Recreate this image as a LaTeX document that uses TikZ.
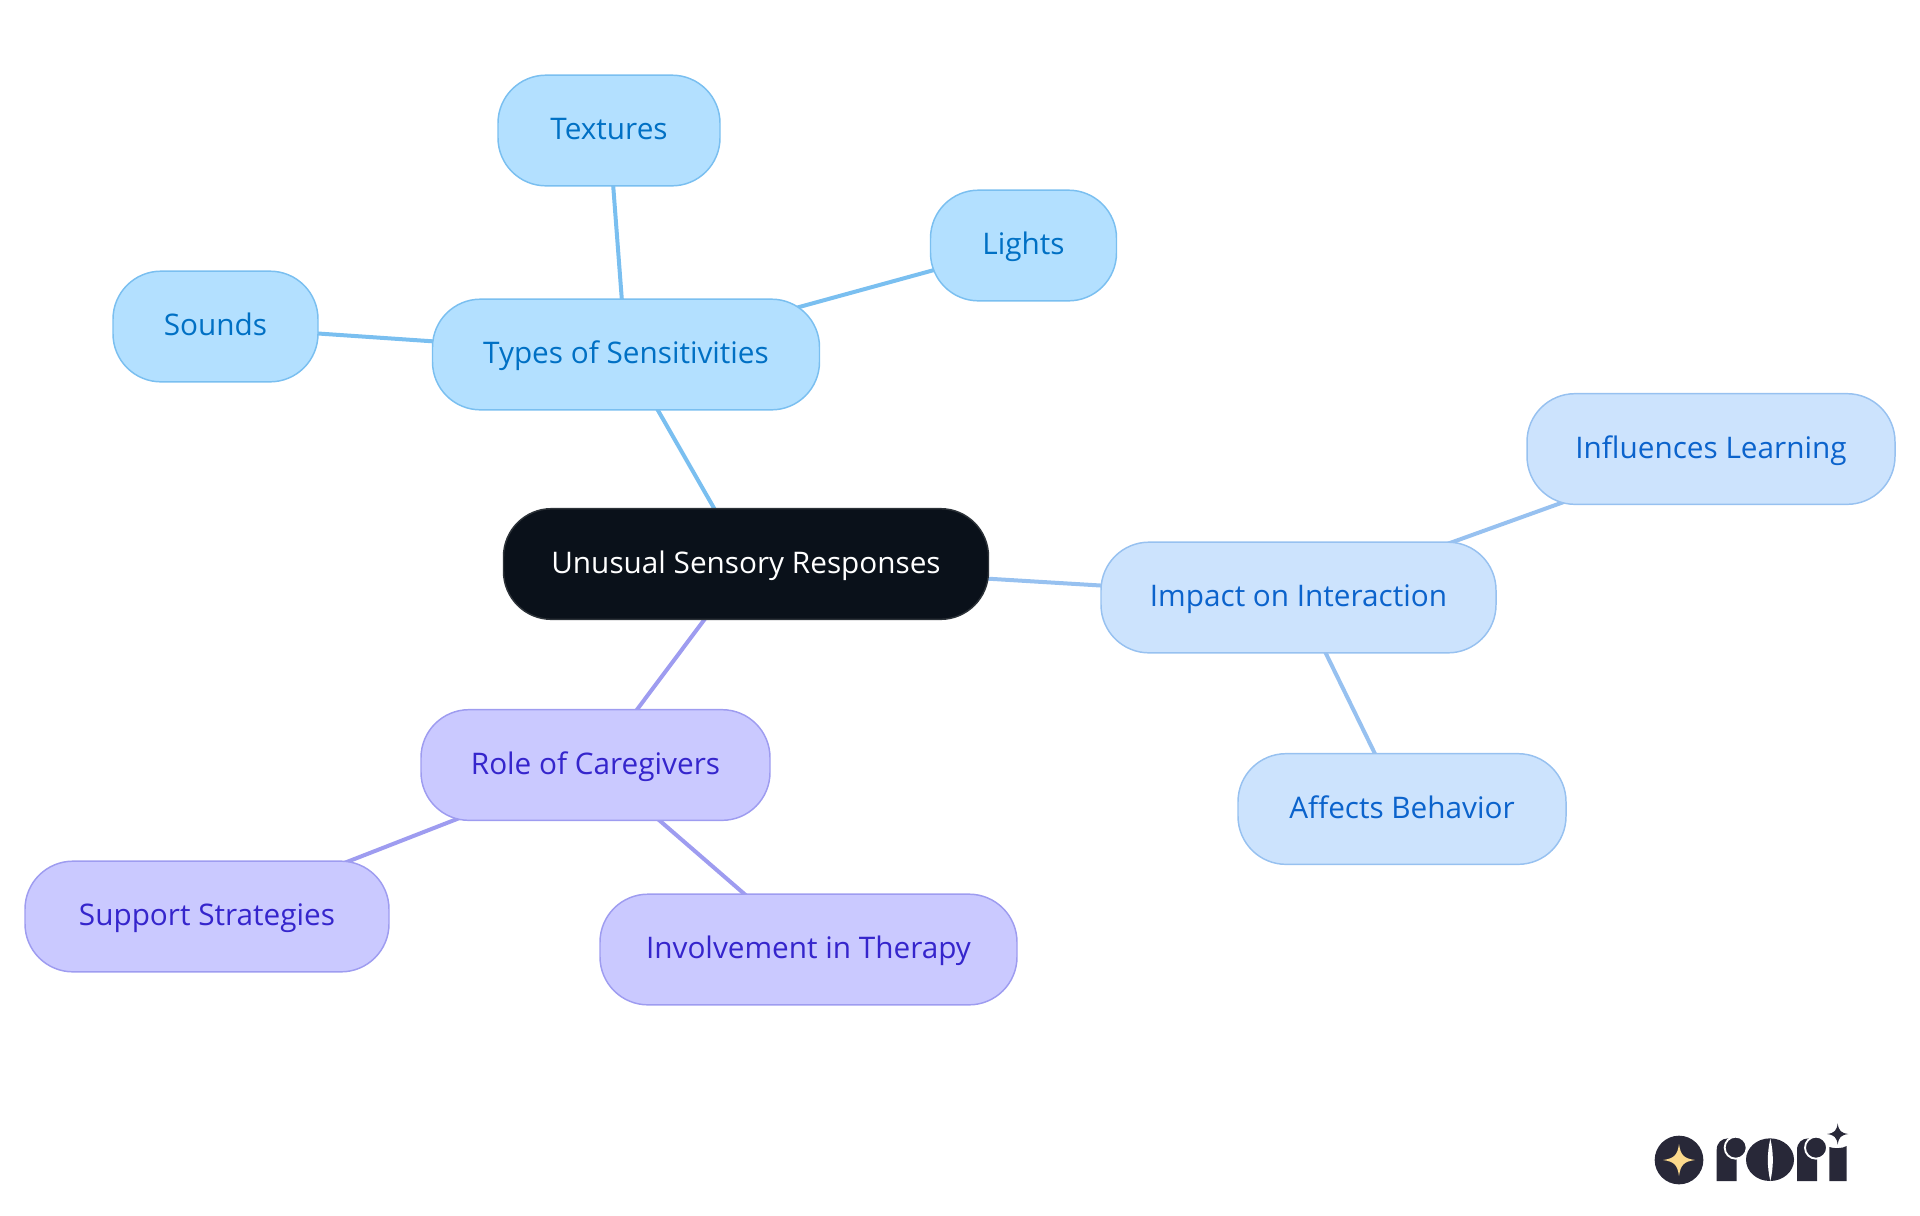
\documentclass[tikz,border=0pt]{standalone}
\usepackage{fontspec}
\setmainfont{Open Sans}
\usetikzlibrary{backgrounds}
\definecolor{rootfill}{HTML}{0A111A}
\definecolor{rootline}{HTML}{2C3238}
\definecolor{skyfill}{HTML}{B3E0FF}
\definecolor{skyline}{HTML}{7ABFF0}
\definecolor{skytext}{HTML}{0070C4}
\definecolor{bluefill}{HTML}{CCE3FD}
\definecolor{blueline}{HTML}{97C1F0}
\definecolor{bluetext}{HTML}{0B63CC}
\definecolor{violetfill}{HTML}{CAC9FF}
\definecolor{violetline}{HTML}{9E9CF0}
\definecolor{violettext}{HTML}{3525CC}
\definecolor{logodark}{HTML}{282838}
\definecolor{logogold}{HTML}{FBD98C}
\tikzset{
  idea/.style = {draw, rounded corners=36pt, line width=1.1pt, minimum height=83pt,
    inner sep=0pt, align=center, text height=18.6pt, text depth=5pt,
    font=\fontsize{22.3}{26}\selectfont},
  rootidea/.style = {idea, fill=rootfill, draw=rootline, text=white},
  skyidea/.style = {idea, fill=skyfill, draw=skyline, text=skytext},
  blueidea/.style = {idea, fill=bluefill, draw=blueline, text=bluetext},
  violetidea/.style = {idea, fill=violetfill, draw=violetline, text=violettext},
  skylink/.style = {line width=3pt, draw=skyline},
  bluelink/.style = {line width=3pt, draw=blueline},
  violetlink/.style = {line width=3pt, draw=violetline},
  logostar/.pic = {
    \fill (-1,0) .. controls (-.3,.1) and (-.1,.3) .. (0,1)
       .. controls (.1,.3) and (.3,.1) .. (1,0)
       .. controls (.3,-.1) and (.1,-.3) .. (0,-1)
       .. controls (-.1,-.3) and (-.3,-.1) .. (-1,0) -- cycle;
  },
  logoletter/.pic = {
    \fill (0,243) -- (0,150) .. controls (0,128) and (15,115) .. (35,115)
       -- (60,150) -- (60,243) -- cycle;
    \filldraw[draw=white, line width=1.4pt] (57,143) circle (33);
  }
}
\begin{document}
\begin{tikzpicture}[x=.75pt,y=-.75pt]
  \useasboundingbox (0,0) rectangle (1920,1215);
  \node[rootidea, minimum width=363.75pt] (root) at (746,564) {Unusual Sensory Responses};

  \node[skyidea, minimum width=290.25pt] (types) at (626,354.5) {Types of Sensitivities};
  \node[skyidea, minimum width=166.5pt] (textures) at (609,130.5) {Textures};
  \node[skyidea, minimum width=139.5pt] (lights) at (1023.5,245.5) {Lights};
  \node[skyidea, minimum width=153.75pt] (sounds) at (215.5,326.5) {Sounds};

  \node[blueidea, minimum width=296.25pt] (impact) at (1298.5,597.5) {Impact on Interaction};
  \node[blueidea, minimum width=276pt] (learning) at (1711,449) {Influences Learning};
  \node[blueidea, minimum width=246pt] (behavior) at (1402,809) {Affects Behavior};

  \node[violetidea, minimum width=261.75pt] (role) at (595.5,765) {Role of Caregivers};
  \node[violetidea, minimum width=273pt] (support) at (207,916.5) {Support Strategies};
  \node[violetidea, minimum width=312.75pt] (therapy) at (808.5,949.5) {Involvement in Therapy};

  \begin{pgfonlayer}{background}
    \draw[skylink] (root.center) -- (types.center);
    \foreach \leaf in {textures,lights,sounds} {
      \draw[skylink] (types.center) -- (\leaf.center);
    };
    \draw[bluelink] (root.center) -- (impact.center);
    \foreach \leaf in {learning,behavior} {
      \draw[bluelink] (impact.center) -- (\leaf.center);
    };
    \draw[violetlink] (root.center) -- (role.center);
    \foreach \leaf in {support,therapy} {
      \draw[violetlink] (role.center) -- (\leaf.center);
    };
  \end{pgfonlayer}

  % logo
  \begin{scope}[shift={(1620,1100)},x=.25pt,y=-.25pt]
    \fill[logodark] (177,180) circle (73);
    \pic[logogold,scale=48] at (177,180) {logostar};
    \pic[logodark] at (290,0) {logoletter};
    \pic[logodark] at (531,0) {logoletter};
    \fill[logodark] (450,179) ellipse (72 and 64);
    \fill[white] (451,116) .. controls (441,160) and (441,200) .. (451,243)
       .. controls (461,200) and (461,160) .. (451,116) -- cycle;
    \fill[logodark] (628,243) -- (628,141) .. controls (640,146) and (668,146) .. (680,138)
       -- (680,243) -- cycle;
    \pic[logodark,scale=32] at (653,102) {logostar};
  \end{scope}
\end{tikzpicture}
\end{document}
